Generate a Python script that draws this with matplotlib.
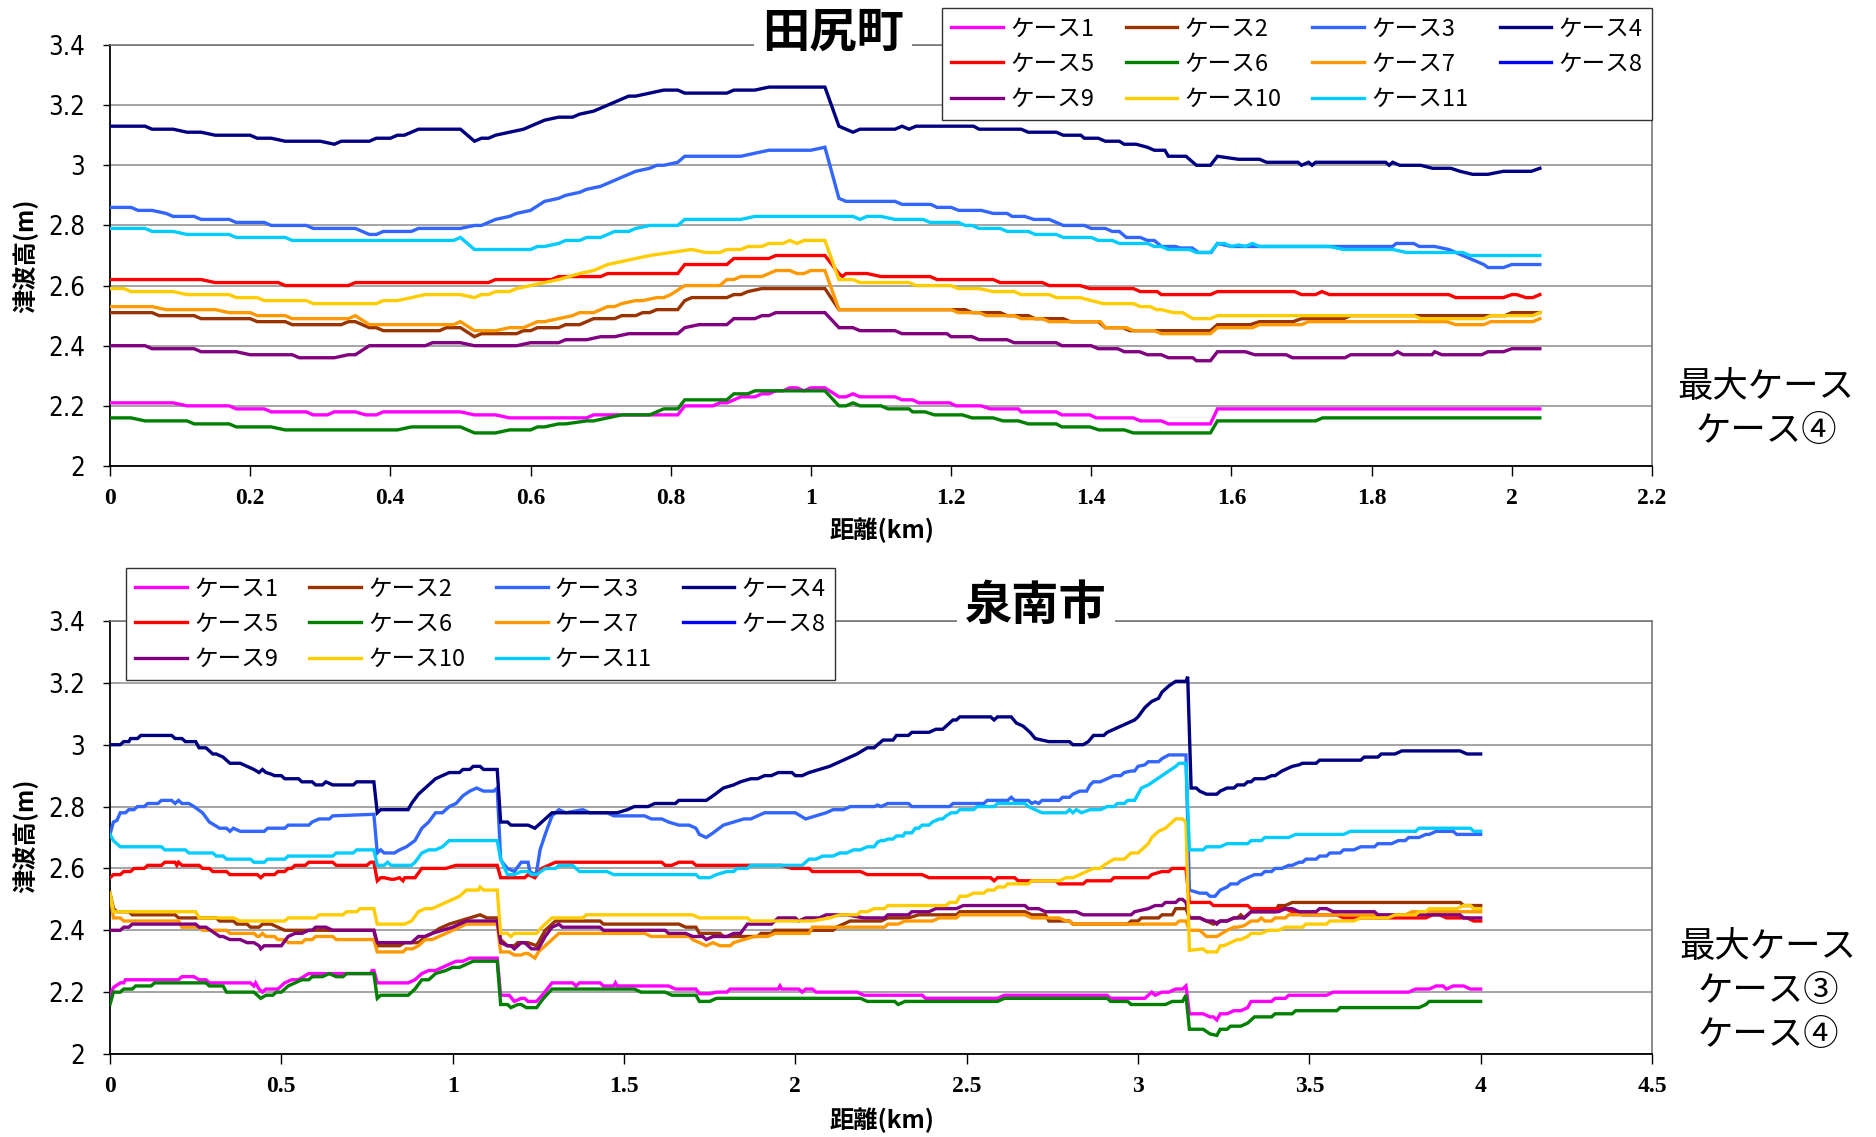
import numpy as np
import matplotlib
matplotlib.use("Agg")
import matplotlib.pyplot as plt
from matplotlib import font_manager
from matplotlib.lines import Line2D
from matplotlib.ticker import FuncFormatter

plt.rcParams['font.family'] = ['Noto Sans CJK JP', 'DejaVu Sans']

# ------------------------------------------------------------------ data
CASE_LABELS = ['ケース1', 'ケース2', 'ケース3', 'ケース4', 'ケース5', 'ケース6',
               'ケース7', 'ケース8', 'ケース9', 'ケース10', 'ケース11']
CASE_COLORS = ['#FF00FF', '#993300', '#3366FF', '#000080', '#FF0000', '#008000',
               '#FF9900', '#0000FF', '#800080', '#FFCC00', '#00CCFF']

TAJIRI_TITLE = '田尻町'
SENNAN_TITLE = '泉南市'
TAJIRI_NOTE = '最大ケース\nケース④'
SENNAN_NOTE = '最大ケース\nケース③\nケース④'
Y_LABEL = '津波高(m)'
X_LABEL = '距離(km)'

TAJIRI_XTICKS = [0, 0.2, 0.4, 0.6, 0.8, 1.0, 1.2, 1.4, 1.6, 1.8, 2.0, 2.2]
SENNAN_XTICKS = [0, 0.5, 1.0, 1.5, 2.0, 2.5, 3.0, 3.5, 4.0, 4.5]
Y_TICKS = [2.0, 2.2, 2.4, 2.6, 2.8, 3.0, 3.2, 3.4]

# ---- 田尻町 (distance km, tsunami height m)
TAJIRI_C1 = [(0, 2.21), (0.09, 2.21), (0.11, 2.20), (0.17, 2.20), (0.18, 2.19), (0.22, 2.19), (0.23, 2.18),
             (0.28, 2.18), (0.29, 2.17), (0.31, 2.17), (0.32, 2.18), (0.35, 2.18), (0.365, 2.17), (0.38, 2.17),
             (0.39, 2.18), (0.5, 2.18), (0.52, 2.17), (0.55, 2.17), (0.57, 2.16), (0.68, 2.16), (0.69, 2.17),
             (0.81, 2.17), (0.82, 2.20), (0.86, 2.20), (0.87, 2.21), (0.88, 2.21), (0.89, 2.22), (0.9, 2.23),
             (0.92, 2.23), (0.93, 2.24), (0.94, 2.24), (0.95, 2.25), (0.96, 2.25), (0.97, 2.26), (0.98, 2.26),
             (0.99, 2.25), (1.0, 2.26), (1.02, 2.26), (1.04, 2.23), (1.05, 2.23), (1.06, 2.24), (1.07, 2.23),
             (1.12, 2.23), (1.13, 2.22), (1.145, 2.22), (1.154, 2.21), (1.198, 2.21), (1.207, 2.20), (1.243, 2.20),
             (1.256, 2.19), (1.296, 2.19), (1.30, 2.18), (1.35, 2.18), (1.358, 2.17), (1.398, 2.17), (1.407, 2.16),
             (1.46, 2.16), (1.47, 2.15), (1.50, 2.15), (1.51, 2.14), (1.57, 2.14), (1.58, 2.19), (2.04, 2.19)]
TAJIRI_C2 = [(0, 2.51), (0.06, 2.51), (0.07, 2.50), (0.12, 2.50), (0.13, 2.49), (0.2, 2.49), (0.21, 2.48),
             (0.25, 2.48), (0.26, 2.47), (0.33, 2.47), (0.34, 2.48), (0.35, 2.48), (0.37, 2.46), (0.38, 2.46),
             (0.39, 2.45), (0.47, 2.45), (0.48, 2.46), (0.5, 2.46), (0.52, 2.43), (0.53, 2.44), (0.58, 2.44),
             (0.59, 2.45), (0.6, 2.45), (0.61, 2.46), (0.64, 2.46), (0.65, 2.47), (0.67, 2.47), (0.68, 2.48),
             (0.69, 2.49), (0.72, 2.49), (0.73, 2.50), (0.75, 2.50), (0.76, 2.51), (0.77, 2.51), (0.78, 2.52),
             (0.81, 2.52), (0.82, 2.55), (0.83, 2.56), (0.88, 2.56), (0.89, 2.57), (0.9, 2.57), (0.91, 2.58),
             (0.93, 2.59), (1.02, 2.59), (1.04, 2.52), (1.22, 2.52), (1.23, 2.51), (1.27, 2.51), (1.28, 2.50),
             (1.31, 2.50), (1.32, 2.49), (1.36, 2.49), (1.37, 2.48), (1.41, 2.48), (1.42, 2.46), (1.445, 2.46),
             (1.455, 2.45), (1.57, 2.45), (1.58, 2.47), (1.627, 2.47), (1.64, 2.48), (1.688, 2.48), (1.70, 2.49),
             (1.76, 2.49), (1.77, 2.50), (1.99, 2.50), (2.0, 2.51), (2.04, 2.51)]
TAJIRI_C3 = [(0, 2.86), (0.03, 2.86), (0.04, 2.85), (0.06, 2.85), (0.08, 2.84), (0.09, 2.83), (0.12, 2.83),
             (0.13, 2.82), (0.17, 2.82), (0.18, 2.81), (0.22, 2.81), (0.23, 2.80), (0.28, 2.80), (0.29, 2.79),
             (0.35, 2.79), (0.36, 2.78), (0.37, 2.77), (0.38, 2.77), (0.39, 2.78), (0.43, 2.78), (0.44, 2.79),
             (0.5, 2.79), (0.52, 2.80), (0.53, 2.80), (0.55, 2.82), (0.57, 2.83), (0.58, 2.84), (0.6, 2.85),
             (0.62, 2.88), (0.64, 2.89), (0.65, 2.90), (0.67, 2.91), (0.68, 2.92), (0.7, 2.93), (0.72, 2.95),
             (0.75, 2.98), (0.77, 2.99), (0.78, 3.00), (0.79, 3.00), (0.81, 3.01), (0.82, 3.03), (0.9, 3.03),
             (0.92, 3.04), (0.94, 3.05), (1.0, 3.05), (1.02, 3.06), (1.04, 2.89), (1.05, 2.88), (1.12, 2.88),
             (1.13, 2.87), (1.171, 2.87), (1.18, 2.86), (1.20, 2.86), (1.211, 2.85), (1.243, 2.85), (1.26, 2.84),
             (1.28, 2.84), (1.287, 2.83), (1.305, 2.83), (1.318, 2.82), (1.34, 2.82), (1.36, 2.80), (1.39, 2.80),
             (1.40, 2.79), (1.42, 2.79), (1.43, 2.78), (1.44, 2.78), (1.45, 2.76), (1.47, 2.76), (1.48, 2.75),
             (1.49, 2.75), (1.50, 2.73), (1.52, 2.73), (1.527, 2.725), (1.544, 2.725), (1.553, 2.71), (1.571, 2.71),
             (1.58, 2.74), (1.60, 2.73), (1.83, 2.73), (1.835, 2.74), (1.86, 2.74), (1.868, 2.73), (1.89, 2.73),
             (1.91, 2.72), (1.93, 2.70), (1.96, 2.67), (1.966, 2.66), (1.988, 2.66), (2.0, 2.67), (2.04, 2.67)]
TAJIRI_C4 = [(0, 3.13), (0.05, 3.13), (0.06, 3.12), (0.09, 3.12), (0.11, 3.11), (0.13, 3.11), (0.15, 3.10),
             (0.2, 3.10), (0.21, 3.09), (0.23, 3.09), (0.25, 3.08), (0.3, 3.08), (0.32, 3.07), (0.33, 3.08),
             (0.37, 3.08), (0.38, 3.09), (0.40, 3.09), (0.41, 3.10), (0.42, 3.10), (0.43, 3.11), (0.44, 3.12),
             (0.5, 3.12), (0.52, 3.08), (0.53, 3.09), (0.54, 3.09), (0.55, 3.10), (0.57, 3.11), (0.59, 3.12),
             (0.6, 3.13), (0.62, 3.15), (0.64, 3.16), (0.66, 3.16), (0.67, 3.17), (0.69, 3.18), (0.7, 3.19),
             (0.72, 3.21), (0.74, 3.23), (0.75, 3.23), (0.77, 3.24), (0.79, 3.25), (0.81, 3.25), (0.82, 3.24),
             (0.88, 3.24), (0.89, 3.25), (0.92, 3.25), (0.94, 3.26), (1.02, 3.26), (1.04, 3.13), (1.06, 3.11),
             (1.07, 3.12), (1.12, 3.12), (1.13, 3.13), (1.14, 3.12), (1.15, 3.13), (1.232, 3.13), (1.24, 3.12),
             (1.30, 3.12), (1.31, 3.11), (1.35, 3.11), (1.36, 3.10), (1.385, 3.10), (1.39, 3.09), (1.41, 3.09),
             (1.42, 3.08), (1.44, 3.08), (1.447, 3.07), (1.464, 3.07), (1.48, 3.06), (1.49, 3.05), (1.505, 3.05),
             (1.51, 3.03), (1.535, 3.03), (1.55, 3.00), (1.57, 3.00), (1.58, 3.03), (1.61, 3.02), (1.64, 3.02),
             (1.65, 3.01), (1.695, 3.01), (1.70, 3.00), (1.71, 3.01), (1.715, 3.00), (1.72, 3.01), (1.82, 3.01),
             (1.825, 3.00), (1.83, 3.01), (1.84, 3.00), (1.87, 3.00), (1.887, 2.99), (1.913, 2.99), (1.926, 2.98),
             (1.944, 2.97), (1.966, 2.97), (1.988, 2.98), (2.028, 2.98), (2.04, 2.99)]
TAJIRI_C5 = [(0, 2.62), (0.13, 2.62), (0.15, 2.61), (0.24, 2.61), (0.25, 2.60), (0.34, 2.60), (0.35, 2.61),
             (0.54, 2.61), (0.55, 2.62), (0.63, 2.62), (0.64, 2.63), (0.70, 2.63), (0.71, 2.64), (0.81, 2.64),
             (0.82, 2.67), (0.88, 2.67), (0.89, 2.69), (0.94, 2.69), (0.95, 2.70), (1.02, 2.70), (1.04, 2.64),
             (1.045, 2.63), (1.05, 2.64), (1.08, 2.64), (1.10, 2.63), (1.17, 2.63), (1.18, 2.62), (1.26, 2.62),
             (1.27, 2.61), (1.33, 2.61), (1.34, 2.60), (1.384, 2.60), (1.398, 2.59), (1.46, 2.59), (1.47, 2.58),
             (1.494, 2.58), (1.50, 2.57), (1.57, 2.57), (1.58, 2.58), (1.69, 2.58), (1.70, 2.57), (1.72, 2.57),
             (1.729, 2.58), (1.74, 2.57), (1.91, 2.57), (1.92, 2.56), (1.988, 2.56), (2.0, 2.57), (2.007, 2.57),
             (2.02, 2.56), (2.03, 2.56), (2.04, 2.57)]
TAJIRI_C6 = [(0, 2.16), (0.03, 2.16), (0.05, 2.15), (0.11, 2.15), (0.12, 2.14), (0.17, 2.14), (0.18, 2.13),
             (0.23, 2.13), (0.25, 2.12), (0.41, 2.12), (0.43, 2.13), (0.5, 2.13), (0.52, 2.11), (0.55, 2.11),
             (0.57, 2.12), (0.6, 2.12), (0.61, 2.13), (0.62, 2.13), (0.64, 2.14), (0.65, 2.14), (0.68, 2.15),
             (0.69, 2.15), (0.71, 2.16), (0.73, 2.17), (0.77, 2.17), (0.79, 2.19), (0.81, 2.19), (0.82, 2.22),
             (0.88, 2.22), (0.89, 2.24), (0.91, 2.24), (0.92, 2.25), (1.02, 2.25), (1.04, 2.20), (1.05, 2.20),
             (1.06, 2.21), (1.07, 2.20), (1.10, 2.20), (1.11, 2.19), (1.14, 2.19), (1.145, 2.18), (1.163, 2.18),
             (1.176, 2.17), (1.216, 2.17), (1.23, 2.16), (1.26, 2.16), (1.274, 2.15), (1.296, 2.15), (1.31, 2.14),
             (1.35, 2.14), (1.358, 2.13), (1.398, 2.13), (1.411, 2.12), (1.447, 2.12), (1.46, 2.11), (1.57, 2.11),
             (1.58, 2.15), (1.72, 2.15), (1.73, 2.16), (2.04, 2.16)]
TAJIRI_C7 = [(0, 2.53), (0.06, 2.53), (0.08, 2.52), (0.15, 2.52), (0.17, 2.51), (0.2, 2.51), (0.21, 2.50),
             (0.25, 2.50), (0.26, 2.49), (0.34, 2.49), (0.35, 2.50), (0.37, 2.47), (0.49, 2.47), (0.5, 2.48),
             (0.52, 2.45), (0.55, 2.45), (0.57, 2.46), (0.59, 2.46), (0.6, 2.47), (0.61, 2.48), (0.62, 2.48),
             (0.64, 2.49), (0.66, 2.50), (0.67, 2.51), (0.69, 2.51), (0.7, 2.52), (0.71, 2.53), (0.72, 2.53),
             (0.73, 2.54), (0.75, 2.55), (0.76, 2.55), (0.78, 2.56), (0.79, 2.56), (0.8, 2.57), (0.82, 2.60),
             (0.87, 2.60), (0.88, 2.62), (0.89, 2.62), (0.9, 2.63), (0.93, 2.63), (0.94, 2.64), (0.95, 2.65),
             (0.97, 2.65), (0.98, 2.64), (0.99, 2.64), (1.0, 2.65), (1.02, 2.65), (1.04, 2.52), (1.2, 2.52),
             (1.21, 2.51), (1.24, 2.51), (1.25, 2.50), (1.29, 2.50), (1.30, 2.49), (1.33, 2.49), (1.34, 2.48),
             (1.413, 2.48), (1.42, 2.46), (1.45, 2.46), (1.46, 2.45), (1.49, 2.45), (1.50, 2.44), (1.57, 2.44),
             (1.58, 2.46), (1.63, 2.46), (1.64, 2.47), (1.70, 2.47), (1.71, 2.48), (1.907, 2.48), (1.92, 2.47),
             (1.96, 2.47), (1.97, 2.48), (2.03, 2.48), (2.04, 2.49)]
TAJIRI_C8 = []
TAJIRI_C9 = [(0, 2.40), (0.05, 2.40), (0.06, 2.39), (0.12, 2.39), (0.13, 2.38), (0.18, 2.38), (0.2, 2.37),
             (0.26, 2.37), (0.27, 2.36), (0.32, 2.36), (0.34, 2.37), (0.35, 2.37), (0.37, 2.40), (0.45, 2.40),
             (0.46, 2.41), (0.5, 2.41), (0.52, 2.40), (0.58, 2.40), (0.6, 2.41), (0.64, 2.41), (0.65, 2.42),
             (0.68, 2.42), (0.7, 2.43), (0.72, 2.43), (0.74, 2.44), (0.81, 2.44), (0.82, 2.46), (0.84, 2.47),
             (0.88, 2.47), (0.89, 2.49), (0.92, 2.49), (0.93, 2.50), (0.94, 2.50), (0.95, 2.51), (1.02, 2.51),
             (1.04, 2.46), (1.06, 2.46), (1.07, 2.45), (1.12, 2.45), (1.13, 2.44), (1.194, 2.44), (1.20, 2.43),
             (1.23, 2.43), (1.24, 2.42), (1.28, 2.42), (1.29, 2.41), (1.35, 2.41), (1.358, 2.40), (1.40, 2.40),
             (1.41, 2.39), (1.438, 2.39), (1.447, 2.38), (1.469, 2.38), (1.48, 2.37), (1.50, 2.37), (1.51, 2.36),
             (1.545, 2.36), (1.55, 2.35), (1.57, 2.35), (1.58, 2.38), (1.62, 2.38), (1.633, 2.37), (1.678, 2.37),
             (1.687, 2.36), (1.762, 2.36), (1.77, 2.37), (1.83, 2.37), (1.837, 2.38), (1.845, 2.37), (1.886, 2.37),
             (1.89, 2.38), (1.90, 2.37), (1.957, 2.37), (1.966, 2.38), (1.988, 2.38), (2.0, 2.39), (2.04, 2.39)]
TAJIRI_C10 = [(0, 2.59), (0.02, 2.59), (0.03, 2.58), (0.09, 2.58), (0.11, 2.57), (0.17, 2.57), (0.18, 2.56),
              (0.21, 2.56), (0.22, 2.55), (0.28, 2.55), (0.29, 2.54), (0.38, 2.54), (0.39, 2.55), (0.41, 2.55),
              (0.43, 2.56), (0.45, 2.57), (0.5, 2.57), (0.52, 2.56), (0.53, 2.57), (0.54, 2.57), (0.55, 2.58),
              (0.57, 2.58), (0.58, 2.59), (0.6, 2.60), (0.62, 2.61), (0.64, 2.62), (0.67, 2.64), (0.69, 2.65),
              (0.71, 2.67), (0.73, 2.68), (0.75, 2.69), (0.77, 2.70), (0.8, 2.71), (0.83, 2.72), (0.85, 2.71),
              (0.87, 2.71), (0.88, 2.72), (0.9, 2.72), (0.91, 2.73), (0.93, 2.73), (0.94, 2.74), (0.96, 2.74),
              (0.97, 2.75), (0.98, 2.74), (0.99, 2.75), (1.02, 2.75), (1.04, 2.62), (1.06, 2.62), (1.07, 2.61),
              (1.14, 2.61), (1.15, 2.60), (1.2, 2.60), (1.21, 2.59), (1.24, 2.59), (1.26, 2.58), (1.29, 2.58),
              (1.30, 2.57), (1.34, 2.57), (1.35, 2.56), (1.384, 2.56), (1.40, 2.55), (1.417, 2.54), (1.46, 2.54),
              (1.47, 2.53), (1.484, 2.53), (1.493, 2.52), (1.50, 2.52), (1.517, 2.51), (1.53, 2.51), (1.545, 2.49),
              (1.57, 2.49), (1.58, 2.50), (1.86, 2.50), (1.87, 2.49), (1.96, 2.49), (1.97, 2.50), (2.03, 2.50),
              (2.04, 2.51)]
TAJIRI_C11 = [(0, 2.79), (0.05, 2.79), (0.06, 2.78), (0.09, 2.78), (0.11, 2.77), (0.17, 2.77), (0.18, 2.76),
              (0.25, 2.76), (0.26, 2.75), (0.49, 2.75), (0.5, 2.76), (0.52, 2.72), (0.6, 2.72), (0.61, 2.73),
              (0.62, 2.73), (0.64, 2.74), (0.65, 2.75), (0.67, 2.75), (0.68, 2.76), (0.7, 2.76), (0.72, 2.78),
              (0.74, 2.78), (0.75, 2.79), (0.77, 2.80), (0.81, 2.80), (0.82, 2.82), (0.9, 2.82), (0.92, 2.83),
              (1.06, 2.83), (1.07, 2.82), (1.08, 2.83), (1.1, 2.83), (1.12, 2.82), (1.16, 2.82), (1.17, 2.81),
              (1.21, 2.81), (1.22, 2.80), (1.23, 2.80), (1.24, 2.79), (1.27, 2.79), (1.28, 2.78), (1.31, 2.78),
              (1.32, 2.77), (1.35, 2.77), (1.36, 2.76), (1.40, 2.76), (1.41, 2.75), (1.43, 2.75), (1.44, 2.74),
              (1.48, 2.74), (1.49, 2.73), (1.50, 2.73), (1.51, 2.72), (1.54, 2.72), (1.55, 2.71), (1.57, 2.71),
              (1.58, 2.74), (1.59, 2.74), (1.60, 2.73), (1.61, 2.735), (1.62, 2.73), (1.63, 2.74), (1.64, 2.73),
              (1.74, 2.73), (1.76, 2.72), (1.83, 2.72), (1.85, 2.71), (1.93, 2.71), (1.94, 2.70), (2.04, 2.70)]

# ---- 泉南市
SENNAN_C1 = [(0, 2.185), (0.01, 2.215), (0.03, 2.23), (0.04, 2.23), (0.045, 2.24), (0.20, 2.24), (0.21, 2.25),
             (0.245, 2.25), (0.26, 2.24), (0.28, 2.24), (0.29, 2.23), (0.41, 2.23), (0.42, 2.22), (0.425, 2.23),
             (0.435, 2.21), (0.445, 2.20), (0.455, 2.21), (0.49, 2.21), (0.51, 2.23), (0.53, 2.24), (0.55, 2.24),
             (0.58, 2.26), (0.76, 2.26), (0.765, 2.27), (0.77, 2.27), (0.78, 2.23), (0.87, 2.23), (0.89, 2.24),
             (0.91, 2.26), (0.93, 2.27), (0.95, 2.27), (0.97, 2.28), (0.99, 2.29), (1.01, 2.30), (1.03, 2.30),
             (1.05, 2.31), (1.13, 2.31), (1.14, 2.19), (1.165, 2.19), (1.18, 2.17), (1.2, 2.18), (1.21, 2.18),
             (1.22, 2.17), (1.245, 2.17), (1.265, 2.195), (1.29, 2.23), (1.35, 2.23), (1.36, 2.22), (1.37, 2.23),
             (1.43, 2.23), (1.44, 2.22), (1.47, 2.22), (1.475, 2.23), (1.48, 2.22), (1.63, 2.22), (1.65, 2.21),
             (1.71, 2.21), (1.72, 2.195), (1.75, 2.195), (1.77, 2.20), (1.80, 2.20), (1.81, 2.21), (1.95, 2.21),
             (1.955, 2.22), (1.96, 2.21), (2.01, 2.21), (2.02, 2.20), (2.03, 2.21), (2.05, 2.21), (2.06, 2.20),
             (2.18, 2.20), (2.20, 2.19), (2.37, 2.19), (2.38, 2.18), (2.59, 2.18), (2.61, 2.19), (2.91, 2.19),
             (2.92, 2.18), (3.02, 2.18), (3.04, 2.20), (3.05, 2.19), (3.07, 2.20), (3.09, 2.20), (3.11, 2.21),
             (3.13, 2.21), (3.14, 2.22), (3.15, 2.13), (3.19, 2.13), (3.21, 2.12), (3.22, 2.12), (3.23, 2.11),
             (3.24, 2.13), (3.26, 2.13), (3.28, 2.14), (3.30, 2.14), (3.32, 2.15), (3.33, 2.17), (3.39, 2.17),
             (3.40, 2.18), (3.43, 2.18), (3.44, 2.19), (3.55, 2.19), (3.57, 2.20), (3.79, 2.20), (3.81, 2.21),
             (3.85, 2.21), (3.87, 2.22), (3.89, 2.22), (3.90, 2.21), (3.92, 2.22), (3.95, 2.22), (3.97, 2.21),
             (4.0, 2.21)]
SENNAN_C2 = [(0, 2.52), (0.01, 2.47), (0.02, 2.46), (0.055, 2.46), (0.065, 2.45), (0.19, 2.45), (0.20, 2.44),
             (0.31, 2.44), (0.32, 2.43), (0.36, 2.43), (0.37, 2.42), (0.40, 2.42), (0.41, 2.41), (0.435, 2.41),
             (0.445, 2.42), (0.47, 2.42), (0.49, 2.41), (0.51, 2.40), (0.77, 2.40), (0.78, 2.35), (0.845, 2.35),
             (0.86, 2.36), (0.90, 2.36), (0.92, 2.38), (0.94, 2.39), (0.96, 2.405), (0.99, 2.42), (1.02, 2.43),
             (1.05, 2.44), (1.08, 2.45), (1.10, 2.44), (1.13, 2.44), (1.14, 2.37), (1.16, 2.35), (1.18, 2.35),
             (1.19, 2.36), (1.22, 2.36), (1.245, 2.35), (1.27, 2.40), (1.30, 2.43), (1.43, 2.43), (1.44, 2.42),
             (1.66, 2.42), (1.68, 2.41), (1.71, 2.41), (1.72, 2.39), (1.78, 2.39), (1.79, 2.38), (1.89, 2.38),
             (1.90, 2.39), (1.93, 2.39), (1.94, 2.40), (2.11, 2.40), (2.12, 2.41), (2.16, 2.43), (2.25, 2.43),
             (2.27, 2.44), (2.33, 2.44), (2.36, 2.45), (2.47, 2.45), (2.48, 2.46), (2.67, 2.46), (2.69, 2.45),
             (2.73, 2.45), (2.74, 2.43), (2.80, 2.43), (2.81, 2.42), (2.97, 2.42), (2.98, 2.43), (3.0, 2.43),
             (3.01, 2.44), (3.06, 2.44), (3.07, 2.45), (3.10, 2.45), (3.11, 2.47), (3.14, 2.47), (3.15, 2.44),
             (3.18, 2.44), (3.22, 2.42), (3.24, 2.43), (3.26, 2.43), (3.28, 2.44), (3.29, 2.44), (3.30, 2.45),
             (3.31, 2.44), (3.33, 2.46), (3.40, 2.46), (3.41, 2.48), (3.43, 2.48), (3.45, 2.49), (3.94, 2.49),
             (3.95, 2.48), (4.0, 2.48)]
SENNAN_C3 = [(0, 2.71), (0.01, 2.75), (0.02, 2.755), (0.03, 2.78), (0.045, 2.78), (0.055, 2.79), (0.07, 2.79),
             (0.08, 2.80), (0.10, 2.80), (0.11, 2.81), (0.14, 2.81), (0.15, 2.82), (0.18, 2.82), (0.19, 2.81),
             (0.20, 2.82), (0.21, 2.81), (0.23, 2.81), (0.245, 2.80), (0.27, 2.78), (0.29, 2.75), (0.32, 2.73),
             (0.34, 2.73), (0.35, 2.72), (0.36, 2.73), (0.38, 2.72), (0.45, 2.72), (0.46, 2.73), (0.51, 2.73),
             (0.52, 2.74), (0.58, 2.74), (0.59, 2.75), (0.61, 2.76), (0.64, 2.76), (0.65, 2.77), (0.77, 2.775),
             (0.78, 2.65), (0.79, 2.66), (0.80, 2.65), (0.83, 2.65), (0.845, 2.66), (0.865, 2.67), (0.89, 2.69),
             (0.90, 2.71), (0.91, 2.73), (0.93, 2.75), (0.95, 2.78), (0.97, 2.78), (0.99, 2.80), (1.01, 2.81),
             (1.03, 2.835), (1.05, 2.85), (1.07, 2.86), (1.09, 2.85), (1.12, 2.85), (1.13, 2.86), (1.14, 2.63),
             (1.145, 2.62), (1.16, 2.60), (1.18, 2.59), (1.2, 2.62), (1.22, 2.62), (1.225, 2.59), (1.24, 2.58),
             (1.245, 2.59), (1.255, 2.66), (1.27, 2.71), (1.29, 2.77), (1.31, 2.79), (1.33, 2.78), (1.38, 2.79),
             (1.40, 2.78), (1.45, 2.78), (1.47, 2.77), (1.56, 2.77), (1.58, 2.76), (1.61, 2.76), (1.63, 2.75),
             (1.66, 2.74), (1.69, 2.74), (1.71, 2.73), (1.72, 2.71), (1.74, 2.70), (1.76, 2.715), (1.79, 2.74),
             (1.82, 2.75), (1.85, 2.76), (1.87, 2.76), (1.89, 2.77), (1.91, 2.78), (2.0, 2.78), (2.03, 2.76),
             (2.06, 2.77), (2.09, 2.78), (2.11, 2.79), (2.14, 2.79), (2.16, 2.80), (2.23, 2.80), (2.24, 2.805),
             (2.25, 2.80), (2.27, 2.81), (2.33, 2.81), (2.34, 2.80), (2.45, 2.80), (2.46, 2.81), (2.55, 2.81),
             (2.56, 2.82), (2.62, 2.82), (2.63, 2.83), (2.64, 2.82), (2.68, 2.82), (2.69, 2.81), (2.70, 2.815),
             (2.71, 2.81), (2.72, 2.82), (2.77, 2.82), (2.78, 2.83), (2.80, 2.83), (2.81, 2.84), (2.83, 2.85),
             (2.85, 2.85), (2.86, 2.87), (2.87, 2.88), (2.89, 2.88), (2.91, 2.89), (2.93, 2.90), (2.95, 2.90),
             (2.96, 2.91), (2.98, 2.915), (2.99, 2.915), (3.0, 2.93), (3.02, 2.935), (3.03, 2.945), (3.06, 2.945),
             (3.07, 2.955), (3.09, 2.967), (3.14, 2.967), (3.15, 2.53), (3.18, 2.52), (3.20, 2.52), (3.21, 2.51),
             (3.225, 2.51), (3.24, 2.53), (3.26, 2.54), (3.27, 2.55), (3.29, 2.55), (3.30, 2.56), (3.32, 2.57),
             (3.34, 2.58), (3.36, 2.58), (3.37, 2.59), (3.39, 2.59), (3.40, 2.60), (3.42, 2.60), (3.44, 2.61),
             (3.45, 2.61), (3.47, 2.62), (3.48, 2.62), (3.49, 2.63), (3.52, 2.63), (3.53, 2.64), (3.55, 2.64),
             (3.56, 2.65), (3.59, 2.65), (3.60, 2.66), (3.63, 2.66), (3.65, 2.67), (3.69, 2.67), (3.70, 2.68),
             (3.74, 2.68), (3.76, 2.69), (3.78, 2.69), (3.79, 2.70), (3.82, 2.70), (3.84, 2.71), (3.85, 2.71),
             (3.87, 2.72), (3.92, 2.72), (3.93, 2.71), (4.0, 2.71)]
SENNAN_C4 = [(0, 3.00), (0.03, 3.00), (0.04, 3.01), (0.055, 3.01), (0.06, 3.02), (0.08, 3.02), (0.09, 3.03),
             (0.18, 3.03), (0.19, 3.02), (0.21, 3.02), (0.22, 3.01), (0.25, 3.01), (0.26, 2.99), (0.28, 2.99),
             (0.30, 2.97), (0.31, 2.97), (0.33, 2.96), (0.35, 2.94), (0.38, 2.94), (0.40, 2.93), (0.42, 2.92),
             (0.435, 2.91), (0.445, 2.92), (0.455, 2.91), (0.47, 2.905), (0.48, 2.90), (0.50, 2.90), (0.51, 2.89),
             (0.55, 2.89), (0.56, 2.88), (0.59, 2.88), (0.60, 2.87), (0.62, 2.87), (0.63, 2.88), (0.65, 2.87),
             (0.71, 2.87), (0.72, 2.88), (0.77, 2.88), (0.78, 2.78), (0.79, 2.79), (0.87, 2.79), (0.88, 2.81),
             (0.90, 2.84), (0.93, 2.87), (0.95, 2.89), (0.97, 2.90), (0.99, 2.91), (1.02, 2.91), (1.03, 2.92),
             (1.05, 2.92), (1.06, 2.93), (1.08, 2.93), (1.09, 2.92), (1.13, 2.92), (1.14, 2.75), (1.16, 2.75),
             (1.17, 2.74), (1.22, 2.74), (1.24, 2.73), (1.26, 2.75), (1.29, 2.78), (1.48, 2.78), (1.51, 2.79),
             (1.53, 2.80), (1.57, 2.80), (1.59, 2.81), (1.65, 2.81), (1.66, 2.82), (1.74, 2.82), (1.76, 2.835),
             (1.79, 2.86), (1.82, 2.87), (1.84, 2.88), (1.87, 2.89), (1.89, 2.89), (1.91, 2.90), (1.93, 2.90),
             (1.95, 2.91), (1.99, 2.91), (2.0, 2.90), (2.02, 2.90), (2.04, 2.91), (2.07, 2.92), (2.10, 2.93),
             (2.12, 2.94), (2.15, 2.955), (2.18, 2.97), (2.21, 2.99), (2.23, 2.99), (2.24, 3.00), (2.256, 3.015),
             (2.285, 3.015), (2.295, 3.03), (2.33, 3.03), (2.34, 3.04), (2.39, 3.04), (2.41, 3.05), (2.43, 3.05),
             (2.445, 3.065), (2.46, 3.08), (2.47, 3.08), (2.48, 3.09), (2.57, 3.09), (2.58, 3.08), (2.59, 3.09),
             (2.63, 3.09), (2.645, 3.07), (2.665, 3.06), (2.685, 3.04), (2.70, 3.02), (2.72, 3.015), (2.74, 3.01),
             (2.80, 3.01), (2.81, 3.00), (2.84, 3.00), (2.855, 3.01), (2.87, 3.03), (2.90, 3.03), (2.91, 3.04),
             (2.93, 3.05), (2.95, 3.06), (2.97, 3.07), (2.99, 3.08), (3.0, 3.09), (3.01, 3.105), (3.02, 3.12),
             (3.04, 3.14), (3.06, 3.15), (3.07, 3.17), (3.09, 3.19), (3.11, 3.205), (3.14, 3.205), (3.145, 3.22),
             (3.155, 2.86), (3.17, 2.86), (3.18, 2.85), (3.20, 2.84), (3.23, 2.84), (3.24, 2.85), (3.26, 2.86),
             (3.28, 2.86), (3.29, 2.87), (3.31, 2.87), (3.32, 2.88), (3.33, 2.88), (3.34, 2.89), (3.37, 2.89),
             (3.39, 2.90), (3.40, 2.90), (3.42, 2.915), (3.43, 2.92), (3.45, 2.93), (3.47, 2.935), (3.48, 2.94),
             (3.52, 2.94), (3.53, 2.95), (3.65, 2.95), (3.66, 2.96), (3.70, 2.96), (3.71, 2.97), (3.75, 2.97),
             (3.77, 2.98), (3.94, 2.98), (3.96, 2.97), (4.0, 2.97)]
SENNAN_C5 = [(0, 2.57), (0.01, 2.58), (0.03, 2.58), (0.04, 2.59), (0.06, 2.59), (0.07, 2.60), (0.10, 2.60),
             (0.11, 2.61), (0.15, 2.61), (0.16, 2.62), (0.19, 2.62), (0.195, 2.61), (0.20, 2.62), (0.21, 2.61),
             (0.26, 2.61), (0.27, 2.60), (0.29, 2.60), (0.30, 2.59), (0.34, 2.59), (0.35, 2.58), (0.43, 2.58),
             (0.44, 2.57), (0.45, 2.58), (0.48, 2.58), (0.49, 2.59), (0.51, 2.59), (0.52, 2.60), (0.53, 2.60),
             (0.54, 2.61), (0.57, 2.61), (0.58, 2.62), (0.65, 2.62), (0.66, 2.61), (0.75, 2.61), (0.76, 2.62),
             (0.77, 2.62), (0.78, 2.56), (0.79, 2.57), (0.80, 2.57), (0.82, 2.565), (0.83, 2.565), (0.845, 2.57),
             (0.855, 2.56), (0.86, 2.57), (0.89, 2.57), (0.91, 2.60), (0.98, 2.60), (1.01, 2.61), (1.13, 2.61),
             (1.14, 2.57), (1.21, 2.57), (1.22, 2.58), (1.24, 2.57), (1.26, 2.60), (1.30, 2.62), (1.61, 2.62),
             (1.62, 2.61), (1.64, 2.61), (1.66, 2.62), (1.70, 2.62), (1.71, 2.61), (1.96, 2.61), (1.99, 2.60),
             (2.04, 2.60), (2.05, 2.59), (2.19, 2.59), (2.21, 2.58), (2.37, 2.58), (2.39, 2.57), (2.57, 2.57),
             (2.58, 2.56), (2.59, 2.57), (2.64, 2.57), (2.65, 2.56), (2.76, 2.56), (2.77, 2.55), (2.84, 2.55),
             (2.85, 2.56), (2.92, 2.56), (2.93, 2.57), (3.03, 2.57), (3.04, 2.58), (3.07, 2.59), (3.09, 2.59),
             (3.10, 2.60), (3.14, 2.60), (3.15, 2.49), (3.21, 2.49), (3.22, 2.48), (3.32, 2.48), (3.33, 2.47),
             (3.43, 2.47), (3.45, 2.46), (3.47, 2.46), (3.48, 2.45), (3.58, 2.45), (3.60, 2.44), (3.84, 2.44),
             (3.86, 2.45), (3.88, 2.45), (3.90, 2.44), (3.96, 2.44), (3.98, 2.43), (4.0, 2.43)]
SENNAN_C6 = [(0, 2.16), (0.01, 2.20), (0.03, 2.20), (0.04, 2.21), (0.065, 2.21), (0.075, 2.22), (0.12, 2.22),
             (0.13, 2.23), (0.28, 2.23), (0.29, 2.22), (0.33, 2.22), (0.34, 2.20), (0.42, 2.20), (0.43, 2.19),
             (0.44, 2.18), (0.455, 2.19), (0.475, 2.19), (0.485, 2.20), (0.50, 2.20), (0.52, 2.22), (0.54, 2.23),
             (0.56, 2.24), (0.58, 2.24), (0.59, 2.25), (0.62, 2.25), (0.64, 2.26), (0.66, 2.25), (0.68, 2.25),
             (0.69, 2.26), (0.77, 2.26), (0.78, 2.18), (0.79, 2.19), (0.87, 2.19), (0.89, 2.21), (0.91, 2.24),
             (0.93, 2.24), (0.95, 2.26), (0.98, 2.27), (1.0, 2.28), (1.02, 2.28), (1.04, 2.29), (1.06, 2.30),
             (1.13, 2.30), (1.14, 2.16), (1.16, 2.16), (1.17, 2.15), (1.19, 2.16), (1.20, 2.16), (1.215, 2.15),
             (1.245, 2.15), (1.265, 2.18), (1.29, 2.21), (1.53, 2.21), (1.55, 2.20), (1.62, 2.20), (1.64, 2.19),
             (1.71, 2.19), (1.72, 2.17), (1.75, 2.17), (1.77, 2.18), (2.19, 2.18), (2.21, 2.17), (2.29, 2.17),
             (2.30, 2.16), (2.32, 2.17), (2.59, 2.17), (2.61, 2.18), (2.91, 2.18), (2.92, 2.17), (2.97, 2.17),
             (2.98, 2.16), (3.08, 2.16), (3.10, 2.17), (3.13, 2.17), (3.14, 2.19), (3.15, 2.08), (3.19, 2.08),
             (3.21, 2.065), (3.23, 2.06), (3.24, 2.08), (3.26, 2.08), (3.27, 2.09), (3.30, 2.09), (3.32, 2.10),
             (3.34, 2.12), (3.39, 2.12), (3.40, 2.13), (3.45, 2.13), (3.46, 2.14), (3.58, 2.14), (3.59, 2.15),
             (3.82, 2.15), (3.84, 2.16), (3.85, 2.17), (4.0, 2.17)]
SENNAN_C7 = [(0, 2.52), (0.01, 2.44), (0.03, 2.44), (0.04, 2.43), (0.20, 2.43), (0.21, 2.41), (0.26, 2.41),
             (0.27, 2.40), (0.34, 2.40), (0.35, 2.39), (0.42, 2.39), (0.43, 2.38), (0.435, 2.38), (0.445, 2.39),
             (0.455, 2.38), (0.48, 2.38), (0.49, 2.37), (0.51, 2.37), (0.52, 2.36), (0.56, 2.36), (0.57, 2.37),
             (0.59, 2.37), (0.60, 2.38), (0.65, 2.38), (0.66, 2.37), (0.77, 2.37), (0.78, 2.33), (0.855, 2.33),
             (0.864, 2.34), (0.883, 2.34), (0.90, 2.35), (0.92, 2.37), (0.94, 2.37), (0.96, 2.38), (0.98, 2.39),
             (1.0, 2.40), (1.02, 2.41), (1.04, 2.42), (1.13, 2.42), (1.14, 2.33), (1.165, 2.33), (1.18, 2.32),
             (1.20, 2.32), (1.21, 2.325), (1.22, 2.325), (1.24, 2.31), (1.25, 2.33), (1.28, 2.36), (1.31, 2.39),
             (1.56, 2.39), (1.58, 2.38), (1.69, 2.38), (1.70, 2.37), (1.72, 2.36), (1.74, 2.35), (1.76, 2.36),
             (1.78, 2.35), (1.81, 2.35), (1.82, 2.36), (1.85, 2.37), (1.88, 2.38), (1.92, 2.38), (1.94, 2.39),
             (2.04, 2.39), (2.05, 2.41), (2.26, 2.41), (2.27, 2.42), (2.30, 2.42), (2.32, 2.43), (2.40, 2.43),
             (2.42, 2.44), (2.47, 2.44), (2.48, 2.45), (2.67, 2.45), (2.69, 2.44), (2.77, 2.44), (2.79, 2.43),
             (2.80, 2.43), (2.81, 2.42), (3.11, 2.42), (3.12, 2.43), (3.14, 2.43), (3.15, 2.40), (3.18, 2.40),
             (3.20, 2.38), (3.23, 2.38), (3.245, 2.39), (3.26, 2.40), (3.28, 2.41), (3.29, 2.41), (3.31, 2.415),
             (3.33, 2.43), (3.35, 2.43), (3.36, 2.44), (3.37, 2.43), (3.39, 2.43), (3.40, 2.44), (3.43, 2.44),
             (3.44, 2.45), (3.78, 2.45), (3.80, 2.46), (4.0, 2.46)]
SENNAN_C8 = []
SENNAN_C9 = [(0, 2.40), (0.03, 2.40), (0.04, 2.41), (0.055, 2.41), (0.065, 2.42), (0.25, 2.42), (0.26, 2.41),
             (0.28, 2.41), (0.30, 2.395), (0.32, 2.38), (0.33, 2.38), (0.35, 2.37), (0.38, 2.37), (0.40, 2.36),
             (0.42, 2.36), (0.435, 2.35), (0.44, 2.34), (0.45, 2.35), (0.50, 2.35), (0.52, 2.38), (0.54, 2.39),
             (0.56, 2.39), (0.58, 2.40), (0.59, 2.40), (0.60, 2.41), (0.63, 2.41), (0.65, 2.40), (0.77, 2.40),
             (0.78, 2.36), (0.88, 2.36), (0.90, 2.38), (0.92, 2.38), (0.94, 2.39), (0.97, 2.40), (1.0, 2.41),
             (1.02, 2.42), (1.04, 2.43), (1.13, 2.43), (1.14, 2.36), (1.16, 2.35), (1.17, 2.35), (1.18, 2.34),
             (1.20, 2.36), (1.21, 2.36), (1.23, 2.34), (1.25, 2.34), (1.27, 2.38), (1.29, 2.41), (1.31, 2.42),
             (1.32, 2.41), (1.43, 2.41), (1.44, 2.40), (1.62, 2.40), (1.63, 2.39), (1.68, 2.39), (1.70, 2.38),
             (1.73, 2.38), (1.74, 2.37), (1.76, 2.38), (1.80, 2.38), (1.82, 2.39), (1.84, 2.39), (1.86, 2.42),
             (1.93, 2.42), (1.95, 2.44), (2.0, 2.44), (2.01, 2.43), (2.03, 2.44), (2.07, 2.44), (2.09, 2.45),
             (2.15, 2.45), (2.20, 2.44), (2.26, 2.44), (2.27, 2.45), (2.33, 2.45), (2.34, 2.46), (2.39, 2.46),
             (2.41, 2.47), (2.47, 2.47), (2.49, 2.48), (2.67, 2.48), (2.68, 2.47), (2.71, 2.47), (2.73, 2.46),
             (2.82, 2.46), (2.84, 2.45), (2.98, 2.45), (2.99, 2.46), (3.03, 2.47), (3.05, 2.48), (3.07, 2.48),
             (3.08, 2.49), (3.11, 2.49), (3.12, 2.50), (3.13, 2.50), (3.14, 2.49), (3.15, 2.44), (3.18, 2.44),
             (3.20, 2.43), (3.22, 2.43), (3.23, 2.42), (3.24, 2.43), (3.26, 2.43), (3.28, 2.44), (3.31, 2.44),
             (3.33, 2.46), (3.41, 2.46), (3.43, 2.47), (3.45, 2.47), (3.47, 2.46), (3.52, 2.46), (3.53, 2.47),
             (3.55, 2.47), (3.57, 2.46), (3.69, 2.46), (3.70, 2.45), (3.94, 2.45), (3.95, 2.44), (4.0, 2.44)]
SENNAN_C10 = [(0, 2.52), (0.01, 2.46), (0.25, 2.46), (0.26, 2.44), (0.36, 2.44), (0.38, 2.43), (0.51, 2.43),
              (0.52, 2.44), (0.60, 2.44), (0.61, 2.45), (0.68, 2.45), (0.69, 2.46), (0.72, 2.46), (0.73, 2.47),
              (0.77, 2.47), (0.78, 2.42), (0.86, 2.42), (0.88, 2.43), (0.90, 2.46), (0.92, 2.47), (0.94, 2.47),
              (0.96, 2.48), (0.98, 2.49), (1.0, 2.50), (1.02, 2.51), (1.04, 2.53), (1.075, 2.53), (1.08, 2.54),
              (1.09, 2.53), (1.13, 2.53), (1.14, 2.39), (1.16, 2.39), (1.17, 2.38), (1.18, 2.39), (1.245, 2.39),
              (1.26, 2.41), (1.29, 2.44), (1.38, 2.44), (1.39, 2.45), (1.70, 2.45), (1.72, 2.44), (1.86, 2.44),
              (1.87, 2.43), (2.05, 2.43), (2.10, 2.44), (2.13, 2.45), (2.18, 2.45), (2.19, 2.46), (2.21, 2.46),
              (2.23, 2.47), (2.26, 2.47), (2.27, 2.48), (2.44, 2.48), (2.45, 2.49), (2.47, 2.49), (2.48, 2.51),
              (2.50, 2.51), (2.52, 2.52), (2.55, 2.52), (2.56, 2.53), (2.58, 2.53), (2.59, 2.54), (2.61, 2.54),
              (2.62, 2.55), (2.68, 2.55), (2.69, 2.56), (2.77, 2.56), (2.79, 2.57), (2.81, 2.57), (2.83, 2.58),
              (2.85, 2.59), (2.87, 2.60), (2.89, 2.60), (2.90, 2.61), (2.93, 2.63), (2.96, 2.63), (2.98, 2.65),
              (3.0, 2.65), (3.01, 2.66), (3.03, 2.68), (3.04, 2.70), (3.06, 2.72), (3.08, 2.73), (3.10, 2.75),
              (3.11, 2.76), (3.13, 2.76), (3.14, 2.75), (3.15, 2.335), (3.19, 2.34), (3.20, 2.33), (3.23, 2.33),
              (3.24, 2.35), (3.25, 2.35), (3.27, 2.36), (3.29, 2.37), (3.30, 2.37), (3.32, 2.38), (3.33, 2.39),
              (3.36, 2.39), (3.38, 2.40), (3.41, 2.40), (3.43, 2.41), (3.48, 2.41), (3.49, 2.42), (3.55, 2.42),
              (3.56, 2.43), (3.63, 2.43), (3.65, 2.44), (3.73, 2.44), (3.75, 2.45), (3.81, 2.45), (3.82, 2.46),
              (3.84, 2.46), (3.85, 2.47), (3.93, 2.47), (3.95, 2.48), (3.97, 2.48), (3.98, 2.47), (4.0, 2.47)]
SENNAN_C11 = [(0, 2.71), (0.01, 2.69), (0.03, 2.67), (0.15, 2.67), (0.16, 2.66), (0.22, 2.66), (0.23, 2.65),
              (0.30, 2.65), (0.31, 2.64), (0.33, 2.64), (0.34, 2.63), (0.41, 2.63), (0.42, 2.62), (0.45, 2.62),
              (0.46, 2.63), (0.51, 2.63), (0.52, 2.64), (0.65, 2.64), (0.66, 2.65), (0.71, 2.65), (0.72, 2.66),
              (0.77, 2.66), (0.78, 2.61), (0.80, 2.61), (0.81, 2.62), (0.82, 2.61), (0.88, 2.61), (0.89, 2.62),
              (0.91, 2.65), (0.93, 2.66), (0.95, 2.66), (0.97, 2.67), (0.99, 2.69), (1.13, 2.69), (1.14, 2.63),
              (1.16, 2.58), (1.18, 2.58), (1.20, 2.59), (1.22, 2.59), (1.23, 2.58), (1.245, 2.58), (1.27, 2.60),
              (1.30, 2.60), (1.31, 2.61), (1.35, 2.61), (1.37, 2.59), (1.45, 2.59), (1.47, 2.58), (1.71, 2.58),
              (1.72, 2.57), (1.75, 2.57), (1.77, 2.58), (1.80, 2.59), (1.82, 2.59), (1.83, 2.60), (1.86, 2.60),
              (1.87, 2.61), (2.02, 2.61), (2.03, 2.62), (2.04, 2.63), (2.06, 2.63), (2.08, 2.64), (2.11, 2.64),
              (2.13, 2.65), (2.15, 2.65), (2.17, 2.66), (2.19, 2.66), (2.21, 2.67), (2.23, 2.67), (2.24, 2.685),
              (2.25, 2.69), (2.26, 2.69), (2.27, 2.695), (2.285, 2.695), (2.295, 2.705), (2.315, 2.705),
              (2.32, 2.715), (2.34, 2.715), (2.35, 2.73), (2.36, 2.73), (2.37, 2.74), (2.39, 2.74), (2.40, 2.75),
              (2.42, 2.76), (2.43, 2.76), (2.44, 2.77), (2.455, 2.78), (2.47, 2.78), (2.48, 2.79), (2.52, 2.79),
              (2.53, 2.80), (2.58, 2.80), (2.59, 2.81), (2.67, 2.81), (2.68, 2.80), (2.70, 2.79), (2.72, 2.78),
              (2.79, 2.78), (2.80, 2.79), (2.81, 2.78), (2.82, 2.79), (2.835, 2.78), (2.86, 2.79), (2.89, 2.79),
              (2.91, 2.80), (2.93, 2.80), (2.94, 2.81), (2.96, 2.81), (2.97, 2.82), (2.99, 2.82), (3.0, 2.84),
              (3.01, 2.86), (3.03, 2.87), (3.05, 2.885), (3.07, 2.90), (3.09, 2.915), (3.11, 2.93), (3.12, 2.94),
              (3.14, 2.94), (3.15, 2.66), (3.19, 2.66), (3.20, 2.67), (3.24, 2.67), (3.26, 2.68), (3.32, 2.68),
              (3.33, 2.69), (3.36, 2.69), (3.37, 2.70), (3.44, 2.70), (3.46, 2.71), (3.60, 2.71), (3.62, 2.72),
              (3.81, 2.72), (3.82, 2.73), (3.97, 2.73), (3.98, 2.72), (4.0, 2.72)]

TAJIRI_SERIES = [TAJIRI_C1, TAJIRI_C2, TAJIRI_C3, TAJIRI_C4, TAJIRI_C5, TAJIRI_C6,
                 TAJIRI_C7, TAJIRI_C8, TAJIRI_C9, TAJIRI_C10, TAJIRI_C11]
SENNAN_SERIES = [SENNAN_C1, SENNAN_C2, SENNAN_C3, SENNAN_C4, SENNAN_C5, SENNAN_C6,
                 SENNAN_C7, SENNAN_C8, SENNAN_C9, SENNAN_C10, SENNAN_C11]

# ------------------------------------------------------------------ fonts
_names = {f.name for f in font_manager.fontManager.ttflist}
if 'Liberation Sans Narrow' in _names:
    NUM_FONT = dict(family='Liberation Sans Narrow')
else:
    NUM_FONT = dict(family='DejaVu Sans', stretch='condensed')
XNUM_FONT = dict(family='Liberation Serif', weight='bold')
CJK = ['Noto Sans CJK JP', 'DejaVu Sans']

# ------------------------------------------------------------------ figure
W, H = 1876, 1137
fig = plt.figure(figsize=(W / 100, H / 100), dpi=100)
fig.patch.set_facecolor('white')

LEFT, RIGHT = 110, 1652
ax1 = fig.add_axes([LEFT / W, (H - 466) / H, (RIGHT - LEFT) / W, (466 - 45) / H])
ax2 = fig.add_axes([LEFT / W, (H - 1054) / H, (RIGHT - LEFT) / W, (1054 - 621) / H])

fmt = FuncFormatter(lambda v, p: f'{round(v, 2):g}')
LW = 2.4


def style_axes(ax, xticks):
    ax.set_xlim(xticks[0], xticks[-1])
    ax.set_ylim(Y_TICKS[0], Y_TICKS[-1])
    ax.set_xticks(xticks)
    ax.set_yticks(Y_TICKS)
    ax.xaxis.set_major_formatter(fmt)
    ax.yaxis.set_major_formatter(fmt)
    ax.yaxis.grid(True, color='#8c8c8c', linewidth=1.1)
    ax.xaxis.grid(False)
    ax.set_axisbelow(True)
    for s in ('left', 'bottom'):
        ax.spines[s].set_color('black')
        ax.spines[s].set_linewidth(1.3)
    for s in ('top', 'right'):
        ax.spines[s].set_color('#6e6e6e')
        ax.spines[s].set_linewidth(1.1)
    ax.tick_params(axis='y', direction='out', length=5, width=1, pad=13, labelsize=18)
    ax.tick_params(axis='x', direction='out', length=7, width=1, pad=9, labelsize=17)
    for lab in ax.get_yticklabels():
        lab.set_fontproperties(font_manager.FontProperties(size=18.5, **NUM_FONT))
    for lab in ax.get_xticklabels():
        lab.set_fontproperties(font_manager.FontProperties(size=17, **XNUM_FONT))


def draw_series(ax, series_list):
    for pts, col in zip(series_list, CASE_COLORS):
        if len(pts) == 0:
            continue
        xs = [p[0] for p in pts]
        ys = [p[1] for p in pts]
        ax.plot(xs, ys, color=col, linewidth=LW, solid_joinstyle='miter', zorder=3)


def add_legend(ax, x0, ytop, w):
    handles = [Line2D([], [], color=c, linewidth=LW) for c in CASE_COLORS]
    order = [0, 4, 8, 1, 5, 9, 2, 6, 10, 3, 7]
    leg = ax.legend([handles[i] for i in order], [CASE_LABELS[i] for i in order],
                    ncol=4, loc='upper left', bbox_to_anchor=(x0, ytop, w, 0),
                    mode='expand', borderaxespad=0, frameon=True, fancybox=False,
                    edgecolor='#333333', framealpha=1, facecolor='white',
                    prop=font_manager.FontProperties(family=CJK, size=17),
                    handlelength=2.2, handletextpad=0.3, columnspacing=0.4,
                    labelspacing=0.52, borderpad=0.4)
    leg.get_frame().set_linewidth(1.0)
    leg.set_zorder(10)
    return leg


# top: 田尻町
draw_series(ax1, TAJIRI_SERIES)
style_axes(ax1, TAJIRI_XTICKS)
add_legend(ax1, (942 - LEFT) / (RIGHT - LEFT), (466 - 8) / 421, (RIGHT - 942) / (RIGHT - LEFT))
ax1.text((833 - LEFT) / (RIGHT - LEFT), (466 - 33) / 421, TAJIRI_TITLE, transform=ax1.transAxes,
         ha='center', va='center', fontsize=34, fontweight='bold', family=CJK, zorder=12,
         bbox=dict(facecolor='white', edgecolor='none', pad=6), clip_on=False)

# bottom: 泉南市
draw_series(ax2, SENNAN_SERIES)
style_axes(ax2, SENNAN_XTICKS)
add_legend(ax2, (126 - LEFT) / (RIGHT - LEFT), (1054 - 568) / 433, (835 - 126) / (RIGHT - LEFT))
ax2.text((1036 - LEFT) / (RIGHT - LEFT), (1054 - 606) / 433, SENNAN_TITLE, transform=ax2.transAxes,
         ha='center', va='center', fontsize=34, fontweight='bold', family=CJK, zorder=12,
         bbox=dict(facecolor='white', edgecolor='none', pad=6), clip_on=False)

# axis labels
for yc in (256, 836):
    fig.text(26 / W, 1 - yc / H, Y_LABEL, rotation=90, ha='center', va='center',
             fontsize=17.5, fontweight='bold', family=CJK)
fig.text(882 / W, 1 - 530 / H, X_LABEL, ha='center', va='center', fontsize=17.5, fontweight='bold', family=CJK)
fig.text(882 / W, 1 - 1120 / H, X_LABEL, ha='center', va='center', fontsize=17.5, fontweight='bold', family=CJK)

# side notes
fig.text(1766 / W, 1 - 409 / H, TAJIRI_NOTE, ha='center', va='center', fontsize=25.5,
         family=CJK, linespacing=1.3, multialignment='center')
fig.text(1768 / W, 1 - 991 / H, SENNAN_NOTE, ha='center', va='center', fontsize=25.5,
         family=CJK, linespacing=1.3, multialignment='center')

fig.savefig('out.png', dpi=100, facecolor='white')
